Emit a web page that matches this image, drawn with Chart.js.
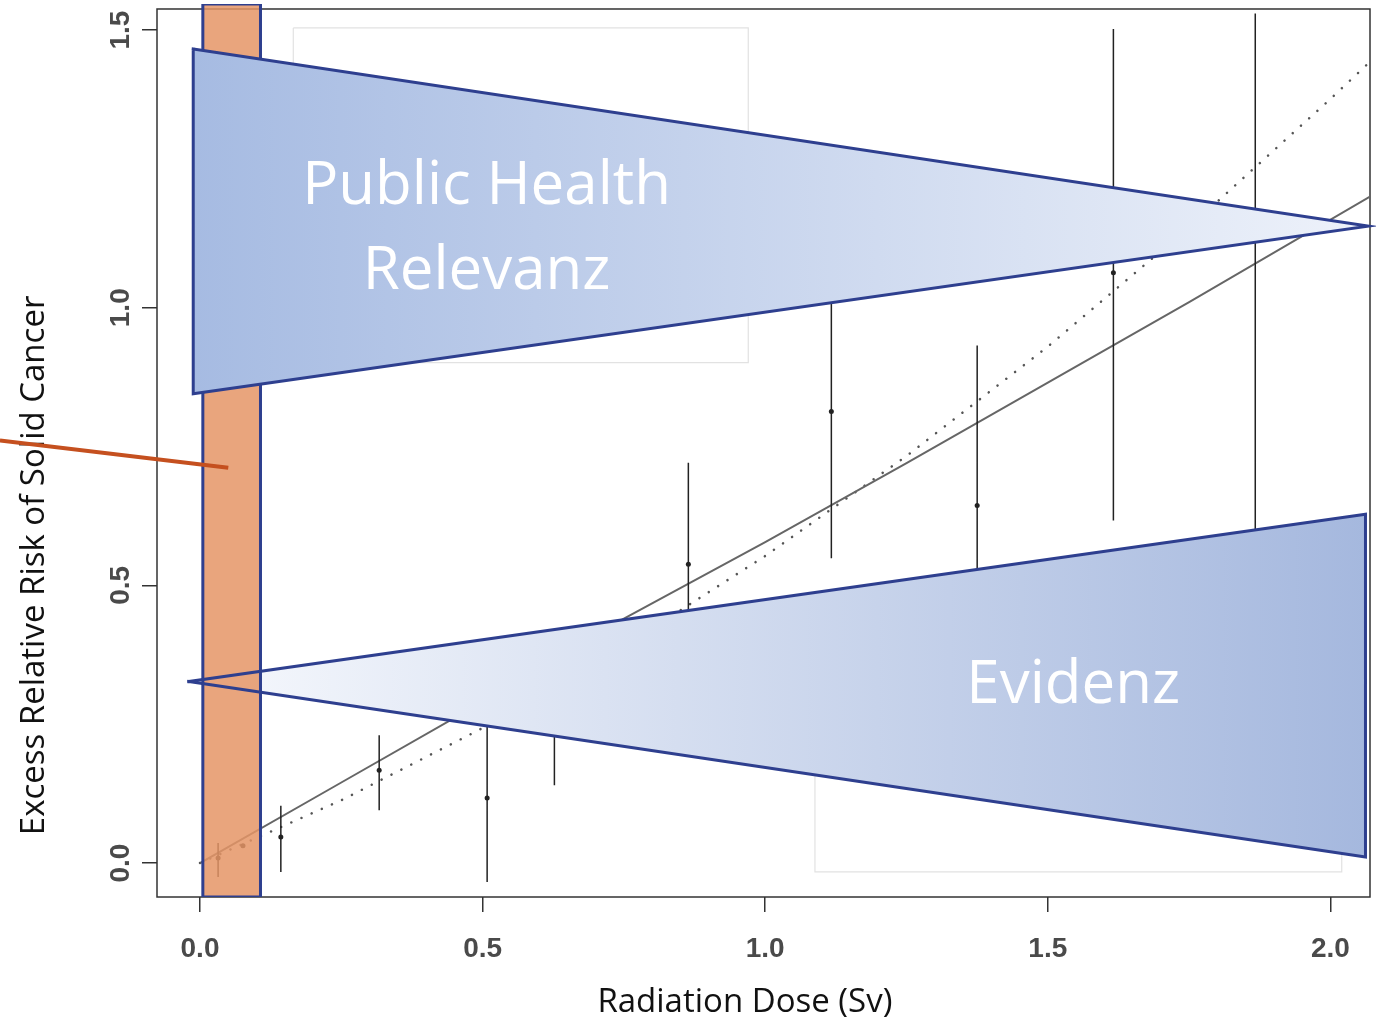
<!DOCTYPE html>
<html>
<head>
<meta charset="utf-8">
<script src="https://cdn.jsdelivr.net/npm/chart.js@4.4.1/dist/chart.umd.min.js"></script>
<style>
  html, body { margin: 0; padding: 0; background: #fff; }
  #wrap { width: 1376px; height: 1024px; }
</style>
</head>
<body>
<div id="wrap"><canvas id="chart" width="1376" height="1024"></canvas></div>
<script>
// dose groups (Sv) and their excess relative risk with CI
const doses    = [0.032, 0.076, 0.143, 0.317, 0.508, 0.627, 0.864, 1.117, 1.375, 1.616, 1.867];
const errPoint = [0.009, 0.031, 0.047, 0.167, 0.117, 0.25, 0.538, 0.813, 0.644, 1.063, 1.14];
const errLow   = [-0.025, 0.031, -0.016, 0.095, -0.034, 0.14, 0.36, 0.549, 0.356, 0.617, 0.5];
const errHigh  = [0.036, 0.031, 0.103, 0.230, 0.27, 0.36, 0.721, 1.08, 0.932, 1.502, 1.53];

// fitted curves (solid = linear, dotted = linear-quadratic)
const linearDose = [0, 0.25, 0.5, 0.75, 1.0, 1.25, 1.5, 1.75, 2.07];
const linearErr  = [0, 0.145, 0.29, 0.44, 0.578, 0.72, 0.865, 1.01, 1.20];
const lqDose = [0, 0.25, 0.5, 0.75, 1.0, 1.25, 1.5, 1.75, 2.0, 2.07];
const lqErr  = [0, 0.113, 0.243, 0.39, 0.553, 0.733, 0.93, 1.145, 1.376, 1.443];

// faint leftover boxes of the scanned figure
const boxAX = [0.165, 0.970, 0.970, 0.165, 0.165];
const boxAY = [1.504, 1.504, 0.901, 0.901, 1.504];
const boxBX = [1.088, 1.088, 2.02, 2.02];
const boxBY = [0.40, -0.016, -0.016, 0.40];

// overlay shapes, in dose / ERR units
const lowDoseX = [0.005, 0.005, 0.107, 0.107, 0.005];
const lowDoseY = [-0.061, 1.547, 1.547, -0.061, -0.061];
const relevanzX = [-0.012, 2.066, -0.012, -0.012];
const relevanzY = [1.466, 1.147, 0.845, 1.466];
const evidenzX = [-0.02, 2.062, 2.062, -0.02];
const evidenzY = [0.327, 0.628, 0.011, 0.327];
const pointerX = [-0.354, 0.05];
const pointerY = [0.761, 0.712];

const xTicks = [0, 0.5, 1.0, 1.5, 2.0];
const yTicks = [0, 0.5, 1.0, 1.5];

const NAVY = '#2E3F8F';
const TICK_FONT = '"Liberation Sans", Arial, sans-serif';

function pts(xs, ys) {
    return xs.map((x, i) => ({x: x, y: ys[i]}));
}

// error bars as one line with gaps
const barPts = [];
doses.forEach((d, i) => {
    barPts.push({x: d, y: errLow[i]}, {x: d, y: errHigh[i]}, {x: d, y: null});
});

function hGradient(c0, c1, x0, x1) {
    return (ctx) => {
        const chart = ctx.chart;
        const xs = chart.scales.x;
        if (!chart.chartArea || !xs) return c1;
        const p0 = xs.getPixelForValue(x0), p1 = xs.getPixelForValue(x1);
        if (!isFinite(p0) || !isFinite(p1)) return c1;
        const g = chart.ctx.createLinearGradient(p0, 0, p1, 0);
        g.addColorStop(0, c0);
        g.addColorStop(1, c1);
        return g;
    };
}

const decorations = {
    id: 'decorations',
    beforeDatasetsDraw(chart) {
        const {ctx, scales: {x, y}} = chart;
        ctx.save();
        // plot box
        ctx.strokeStyle = '#333';
        ctx.lineWidth = 1.5;
        const top = y.getPixelForValue(1.538);
        ctx.strokeRect(x.left, top, x.right - x.left, y.bottom - top);

        // rotated y tick labels
        ctx.font = 'bold 28px ' + TICK_FONT;
        ctx.fillStyle = '#4a4a4a';
        ctx.textAlign = 'center';
        ctx.textBaseline = 'middle';
        yTicks.forEach(v => {
            ctx.save();
            ctx.translate(x.left - 36, y.getPixelForValue(v));
            ctx.rotate(-Math.PI / 2);
            ctx.fillText(v.toFixed(1), 0, 0);
            ctx.restore();
        });

        // axis titles
        ctx.font = '33px "Open Sans", sans-serif';
        ctx.fillStyle = '#111';
        ctx.fillText('Radiation Dose (Sv)', x.getPixelForValue(0.964), 1003);
        ctx.save();
        ctx.translate(35, y.getPixelForValue(0.536));
        ctx.rotate(-Math.PI / 2);
        ctx.fillText('Excess Relative Risk of Solid Cancer', 0, 0);
        ctx.restore();
        ctx.restore();
    },
    afterDatasetsDraw(chart) {
        const {ctx, scales: {x, y}} = chart;
        ctx.save();
        ctx.font = '60px "Open Sans", sans-serif';
        ctx.fillStyle = '#ffffff';
        ctx.textAlign = 'center';
        ctx.textBaseline = 'alphabetic';
        ctx.fillText('Public Health', x.getPixelForValue(0.507), y.getPixelForValue(1.187));
        ctx.fillText('Relevanz', x.getPixelForValue(0.507), y.getPixelForValue(1.034));
        ctx.fillText('Evidenz', x.getPixelForValue(1.545), y.getPixelForValue(0.288));
        ctx.restore();
    }
};

const ctx = document.getElementById('chart').getContext('2d');
const chart = new Chart(ctx, {
    type: 'scatter',
    data: {
        datasets: [
            {
                label: 'box A', data: pts(boxAX, boxAY), showLine: true,
                borderColor: '#e2e2e2', borderWidth: 1.2, pointRadius: 0, order: 10
            },
            {
                label: 'box B', data: pts(boxBX, boxBY), showLine: true,
                borderColor: '#e2e2e2', borderWidth: 1.2, pointRadius: 0, order: 10
            },
            {
                label: 'linear fit', data: pts(linearDose, linearErr), showLine: true,
                borderColor: '#666', borderWidth: 2, pointRadius: 0, order: 9
            },
            {
                label: 'LQ fit', data: pts(lqDose, lqErr), showLine: true,
                borderColor: '#555', borderWidth: 2.5, borderDash: [0.1, 11], borderCapStyle: 'round',
                pointRadius: 0, order: 9
            },
            {
                label: 'CI', data: barPts, showLine: true, spanGaps: false,
                borderColor: '#222', borderWidth: 1.5, pointRadius: 0, order: 8
            },
            {
                label: 'ERR', data: pts(doses, errPoint),
                backgroundColor: '#222', borderWidth: 0, pointRadius: 2.5, order: 8
            },
            {
                label: 'Evidenz fill', data: pts(evidenzX, evidenzY), showLine: true,
                fill: 'shape', backgroundColor: hGradient('#F7F9FD', '#A5B8DE', -0.02, 2.062),
                borderWidth: 0, borderColor: 'rgba(0,0,0,0)', pointRadius: 0, order: 6
            },
            {
                label: 'low dose', data: pts(lowDoseX, lowDoseY), showLine: true,
                fill: 'shape', backgroundColor: 'rgba(229,149,102,0.85)',
                borderColor: NAVY, borderWidth: 3, borderCapStyle: 'square', pointRadius: 0, order: 5
            },
            {
                label: 'Evidenz', data: pts(evidenzX, evidenzY), showLine: true,
                borderColor: NAVY, borderWidth: 3, borderCapStyle: 'square', pointRadius: 0,
                clip: false, order: 4
            },
            {
                label: 'Relevanz', data: pts(relevanzX, relevanzY), showLine: true,
                fill: 'shape', backgroundColor: hGradient('#A6BBE2', '#EEF2FA', -0.012, 2.066),
                borderColor: NAVY, borderWidth: 3, borderCapStyle: 'square', pointRadius: 0,
                clip: false, order: 3
            },
            {
                label: 'pointer', data: pts(pointerX, pointerY), showLine: true,
                borderColor: '#C5501F', borderWidth: 4, pointRadius: 0, clip: false, order: 2
            }
        ]
    },
    options: {
        responsive: false,
        animation: false,
        layout: { padding: { top: 3, right: 6, left: 0, bottom: 0 } },
        plugins: {
            legend: { display: false },
            tooltip: { enabled: false }
        },
        scales: {
            x: {
                type: 'linear',
                min: -0.0761,
                max: 2.070,
                afterFit: s => { s.height = 127; },
                afterBuildTicks: s => { s.ticks = xTicks.map(v => ({value: v})); },
                border: { display: false },
                grid: { drawOnChartArea: false, drawTicks: true, tickLength: 15, color: '#333', lineWidth: 1.5 },
                ticks: {
                    font: { family: TICK_FONT, size: 28, weight: 'bold' },
                    color: '#4a4a4a',
                    padding: 20,
                    maxRotation: 0,
                    callback: v => v.toFixed(1)
                }
            },
            y: {
                type: 'linear',
                min: -0.0612,
                max: 1.547,
                afterFit: s => { s.width = 157; },
                afterBuildTicks: s => { s.ticks = yTicks.map(v => ({value: v})); },
                border: { display: false },
                grid: { drawOnChartArea: false, drawTicks: true, tickLength: 15, color: '#333', lineWidth: 1.5 },
                ticks: { display: false }
            }
        }
    },
    plugins: [decorations]
});
</script>
</body>
</html>
